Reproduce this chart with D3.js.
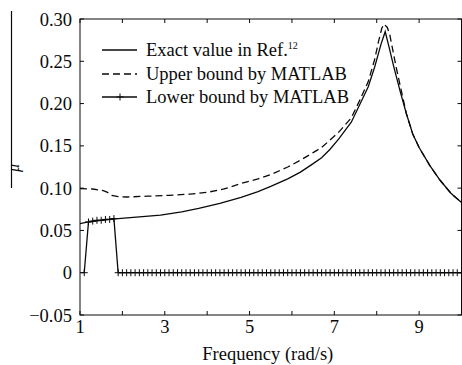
<!DOCTYPE html>
<meta charset="utf-8">
<html>
  <head>
    <script src="https://d3js.org/d3.v7.min.js"></script>
    <style>
      body { margin: 0; background: #fff; }
      svg { display: block; font-family: "Liberation Serif", "Times New Roman", "DejaVu Serif", serif; }
    </style>
  </head>
  <body>
  <script>

// frequency (rad/s) and mu values
const exactFreq = [1.0, 1.2, 1.5, 1.9, 2.4, 2.9, 3.4, 3.8, 4.3, 4.8, 5.2, 5.5, 5.9, 6.2, 6.5, 6.7, 6.9, 7.1,
                   7.4, 7.6, 7.8, 7.95, 8.1, 8.2, 8.3, 8.4, 8.55, 8.7, 8.85, 9.0, 9.25, 9.5, 9.75, 10.0];
const exactMu   = [0.058, 0.060, 0.062, 0.064, 0.066, 0.068, 0.072, 0.076, 0.082, 0.089, 0.096, 0.102, 0.111, 0.119,
                   0.129, 0.136, 0.146, 0.158, 0.178, 0.199, 0.220, 0.243, 0.270, 0.285, 0.265, 0.244, 0.215, 0.188,
                   0.164, 0.148, 0.127, 0.109, 0.094, 0.083];

const upperFreq = [1.0, 1.3, 1.55, 1.65, 1.75, 1.9, 2.1, 2.6, 3.1, 3.6, 4.0, 4.4, 4.8, 5.2, 5.5, 5.9, 6.2, 6.5, 6.7,
                   6.9, 7.1, 7.4, 7.6, 7.8, 7.95, 8.05, 8.12, 8.17, 8.25, 8.31, 8.45, 8.55, 8.7, 8.85, 9.0, 9.25,
                   9.5, 9.75, 10.0];
const upperMu   = [0.0995, 0.099, 0.097, 0.095, 0.0915, 0.090, 0.0895, 0.0905, 0.0915, 0.093, 0.095, 0.099, 0.1055,
                   0.111, 0.116, 0.125, 0.133, 0.142, 0.148, 0.157, 0.166, 0.183, 0.204, 0.226, 0.252, 0.275, 0.289,
                   0.294, 0.290, 0.281, 0.245, 0.222, 0.188, 0.164, 0.148, 0.127, 0.109, 0.094, 0.083];

const lowerFreq = [1.1, 1.2, 1.3, 1.4, 1.5, 1.6, 1.7, 1.8, 1.9, 2.0,
                   2.1, 2.2, 2.3, 2.4, 2.5, 2.6, 2.7, 2.8, 2.9, 3.0,
                   3.1, 3.2, 3.3, 3.4, 3.5, 3.6, 3.7, 3.8, 3.9, 4.0,
                   4.1, 4.2, 4.3, 4.4, 4.5, 4.6, 4.7, 4.8, 4.9, 5.0,
                   5.1, 5.2, 5.3, 5.4, 5.5, 5.6, 5.7, 5.8, 5.9, 6.0,
                   6.1, 6.2, 6.3, 6.4, 6.5, 6.6, 6.7, 6.8, 6.9, 7.0,
                   7.1, 7.2, 7.3, 7.4, 7.5, 7.6, 7.7, 7.8, 7.9, 8.0,
                   8.1, 8.2, 8.3, 8.4, 8.5, 8.6, 8.7, 8.8, 8.9, 9.0,
                   9.1, 9.2, 9.3, 9.4, 9.5, 9.6, 9.7, 9.8, 9.9, 10.0];
const lowerMu   = [0, 0.060, 0.061, 0.062, 0.062, 0.063, 0.063, 0.064, 0, 0,
                   0, 0, 0, 0, 0, 0, 0, 0, 0, 0,
                   0, 0, 0, 0, 0, 0, 0, 0, 0, 0,
                   0, 0, 0, 0, 0, 0, 0, 0, 0, 0,
                   0, 0, 0, 0, 0, 0, 0, 0, 0, 0,
                   0, 0, 0, 0, 0, 0, 0, 0, 0, 0,
                   0, 0, 0, 0, 0, 0, 0, 0, 0, 0,
                   0, 0, 0, 0, 0, 0, 0, 0, 0, 0,
                   0, 0, 0, 0, 0, 0, 0, 0, 0, 0];

const xTicks = [1, 2, 3, 4, 5, 6, 7, 8, 9, 10],
      xLabels = [1, 3, 5, 7, 9],
      yTicks = [-0.05, 0, 0.05, 0.10, 0.15, 0.20, 0.25, 0.30];

const legendItems = ['Exact value in Ref.', 'Upper bound by MATLAB', 'Lower bound by MATLAB'];

const width = 462, height = 365,
      m_left = 80, m_right = 461.5, m_top = 19, m_bottom = 315,
      tick_len = 4, plus = 3.5,
      ink = '#0a0a0a';

const x = d3.scaleLinear().domain([1, 10]).range([m_left, m_right]),
      y = d3.scaleLinear().domain([-0.05, 0.30]).range([m_bottom, m_top]);

const svg = d3.select('body').append('svg')
  .attr('width', width)
  .attr('height', height);

const fmtY = d => d === 0 ? '0' : (d < 0 ? '\u2212' : '') + d3.format('.2f')(Math.abs(d));

// frame
svg.append('rect')
  .attr('x', m_left).attr('y', m_top)
  .attr('width', m_right - m_left).attr('height', m_bottom - m_top)
  .attr('fill', 'none').attr('stroke', ink).attr('stroke-width', 1);

// inward ticks on all four sides
const ticks = svg.append('g').attr('stroke', ink).attr('stroke-width', 1);
ticks.selectAll('.xb').data(xTicks).enter().append('line')
  .attr('x1', d => x(d)).attr('x2', d => x(d))
  .attr('y1', m_bottom).attr('y2', m_bottom - tick_len);
ticks.selectAll('.xt').data(xTicks).enter().append('line')
  .attr('x1', d => x(d)).attr('x2', d => x(d))
  .attr('y1', m_top).attr('y2', m_top + tick_len);
ticks.selectAll('.yl').data(yTicks).enter().append('line')
  .attr('x1', m_left).attr('x2', m_left + tick_len)
  .attr('y1', d => y(d)).attr('y2', d => y(d));
ticks.selectAll('.yr').data(yTicks).enter().append('line')
  .attr('x1', m_right).attr('x2', m_right - tick_len)
  .attr('y1', d => y(d)).attr('y2', d => y(d));

// tick labels
svg.append('g').selectAll('text').data(xLabels).enter().append('text')
  .attr('x', d => x(d)).attr('y', 333)
  .attr('text-anchor', 'middle')
  .attr('font-size', 18.5).attr('fill', ink)
  .text(d => d);

svg.append('g').selectAll('text').data(yTicks).enter().append('text')
  .attr('x', 72).attr('y', d => y(d) + 6.5)
  .attr('text-anchor', 'end')
  .attr('font-size', 18.5).attr('fill', ink)
  .text(fmtY);

// axis titles
svg.append('text')
  .attr('x', (m_left + m_right) / 2 - 3).attr('y', 360)
  .attr('text-anchor', 'middle')
  .attr('font-size', 18.5).attr('fill', ink)
  .text('Frequency (rad/s)');

svg.append('line')
  .attr('x1', 11.5).attr('x2', 11.5).attr('y1', 11).attr('y2', 188)
  .attr('stroke', ink).attr('stroke-width', 1.2);
svg.append('text')
  .attr('transform', 'translate(19,168) rotate(-90)')
  .attr('text-anchor', 'middle')
  .attr('font-size', 16).attr('font-style', 'italic').attr('fill', ink)
  .text('\u03bc');

// curves
svg.append('clipPath').attr('id', 'plot')
  .append('rect').attr('x', m_left).attr('y', m_top).attr('width', m_right - m_left).attr('height', m_bottom - m_top);

const line = d3.line().x(d => x(d[0])).y(d => y(d[1]));
const plot = svg.append('g').attr('clip-path', 'url(#plot)');

const exact = d3.zip(exactFreq, exactMu),
      upper = d3.zip(upperFreq, upperMu),
      lower = d3.zip(lowerFreq, lowerMu);

plot.append('path').datum(upper)
  .attr('d', line).attr('fill', 'none')
  .attr('stroke', ink).attr('stroke-width', 1.3).attr('stroke-dasharray', '7,4');

plot.append('path').datum(exact)
  .attr('d', line).attr('fill', 'none')
  .attr('stroke', ink).attr('stroke-width', 1.3);

plot.append('path').datum(lower)
  .attr('d', line).attr('fill', 'none')
  .attr('stroke', ink).attr('stroke-width', 1.3);

const plusPath = (cx, cy) => `M${cx - plus},${cy}H${cx + plus}M${cx},${cy - plus}V${cy + plus}`;

plot.append('path')
  .attr('d', lower.map(d => plusPath(x(d[0]), y(d[1]))).join(''))
  .attr('fill', 'none').attr('stroke', ink).attr('stroke-width', 1);

// legend
const legendY = [50, 74, 97];
const legend = svg.append('g');
legend.selectAll('line').data(legendItems).enter().append('line')
  .attr('x1', 102).attr('x2', 137)
  .attr('y1', (d, i) => legendY[i]).attr('y2', (d, i) => legendY[i])
  .attr('stroke', ink).attr('stroke-width', 1.3)
  .attr('stroke-dasharray', (d, i) => i === 1 ? '7,4' : null);
legend.append('path')
  .attr('d', plusPath(120, legendY[2]))
  .attr('stroke', ink).attr('stroke-width', 1);

const labels = legend.selectAll('text').data(legendItems).enter().append('text')
  .attr('x', 146).attr('y', (d, i) => legendY[i] + 5.5)
  .attr('font-size', 18.5).attr('fill', ink)
  .text(d => d);
labels.filter((d, i) => i === 0).append('tspan')
  .attr('font-size', 10).attr('dy', -7)
  .text('12');

  </script>
  </body>
</html>
